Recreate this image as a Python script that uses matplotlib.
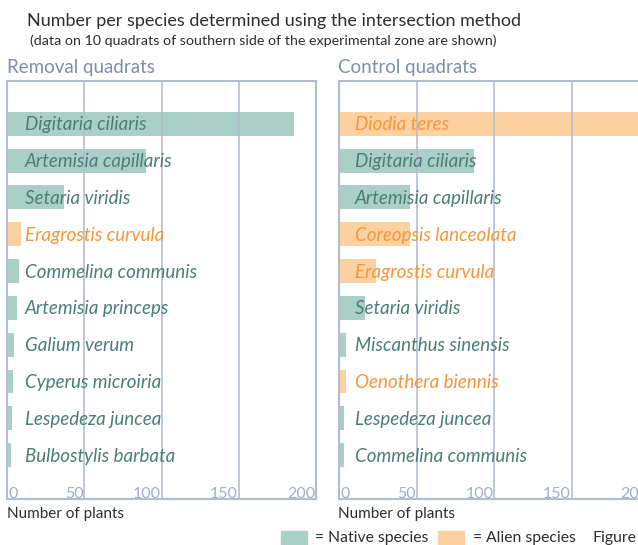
import matplotlib
matplotlib.use("Agg")
import matplotlib.pyplot as plt
from matplotlib.patches import Rectangle
import matplotlib.transforms as mtransforms

plt.rcParams['font.family'] = ['Lato', 'DejaVu Sans']

# ---------------- data ----------------
removal_species = ["Digitaria ciliaris", "Artemisia capillaris", "Setaria viridis",
                   "Eragrostis curvula", "Commelina communis", "Artemisia princeps",
                   "Galium verum", "Cyperus microiria", "Lespedeza juncea",
                   "Bulbostylis barbata"]
removal_values = [186, 90, 37, 9, 8, 6.5, 4.5, 4, 3, 2.5]
removal_origin = ["native", "native", "native", "alien", "native", "native",
                  "native", "native", "native", "native"]

control_species = ["Diodia teres", "Digitaria ciliaris", "Artemisia capillaris",
                   "Coreopsis lanceolata", "Eragrostis curvula", "Setaria viridis",
                   "Miscanthus sinensis", "Oenothera biennis", "Lespedeza juncea",
                   "Commelina communis"]
control_values = [210, 87, 46, 46, 24, 17, 4.5, 4.5, 3, 3]
control_origin = ["alien", "native", "native", "alien", "alien", "native",
                  "native", "alien", "native", "native"]

x_ticks = [0, 50, 100, 150, 200]
panel_titles = ["Removal quadrats", "Control quadrats"]
title = "Number per species determined using the intersection method"
subtitle = "(data on 10 quadrats of southern side of the experimental zone are shown)"
xlabel = "Number of plants"
legend_labels = ["= Native species", "= Alien species"]

# ---------------- styles ----------------
BAR = {"native": "#aacfc7", "alien": "#fed1a1"}
TXT = {"native": "#4a7f73", "alien": "#f7963a"}
GRID = "#b3bdcd"
TICK = "#a3afc3"
PANEL = "#7d8fa6"
DARK = "#2e2e2e"

W, H = 638, 545
fig = plt.figure(figsize=(W / 100, H / 100), dpi=100)


def px_axes(x0, y0, x1, y1):
    return fig.add_axes([x0 / W, 1 - y1 / H, (x1 - x0) / W, (y1 - y0) / H])


def draw_panel(ax, species, values, origin, label_x_px):
    n = len(species)
    ypos = list(range(n))
    colors = [BAR[o] for o in origin]
    ax.barh(ypos, values, height=0.65, color=colors, zorder=1)
    ax.set_xlim(0, 200)
    ax.set_ylim(10.19, -1.16)
    for t in x_ticks[1:-1]:
        ax.axvline(t, color=GRID, lw=1.2, zorder=2)
    for s in ax.spines.values():
        s.set_color(GRID)
        s.set_linewidth(1.5)
    ax.set_xticks([])
    ax.set_yticks([])
    off = mtransforms.offset_copy(ax.transData, fig=fig, x=label_x_px * 0.72,
                                  y=-1.0 * 0.72, units='points')
    for i, (sp, o) in enumerate(zip(species, origin)):
        ax.text(0, i, sp, transform=off, ha='left', va='center', style='italic',
                fontsize=13.5, color=TXT[o], zorder=3)
    tr = mtransforms.blended_transform_factory(ax.transData, ax.transAxes)
    trb = mtransforms.offset_copy(tr, fig=fig, x=0, y=1.5 * 0.72, units='points')
    for t in x_ticks:
        ax.text(t + (1 if t == 0 else -0.5), 0.0, str(t), transform=trb,
                ha='left' if t == 0 else 'right', va='baseline', fontsize=11.5,
                color=TICK, zorder=3)


ax1 = px_axes(7, 81, 316, 499)
draw_panel(ax1, removal_species, removal_values, removal_origin, 18)
ax2 = px_axes(339, 81, 649, 499)
draw_panel(ax2, control_species, control_values, control_origin, 16)

fig.text(27 / W, 1 - 21 / H, title, fontsize=13, color=DARK, va='center', ha='left')
fig.text(30 / W, 1 - 41 / H, subtitle, fontsize=10.3, color=DARK, va='center', ha='left')
fig.text(7 / W, 1 - 67 / H, panel_titles[0], fontsize=13.5, color=PANEL, va='center',
         ha='left')
fig.text(338 / W, 1 - 67 / H, panel_titles[1], fontsize=13.5, color=PANEL, va='center',
         ha='left')
fig.text(7 / W, 1 - 514 / H, xlabel, fontsize=11, color=DARK, va='center', ha='left')
fig.text(338 / W, 1 - 514 / H, xlabel, fontsize=11, color=DARK, va='center', ha='left')

# legend row
fig.patches.append(Rectangle((281 / W, 1 - 546 / H), 26 / W, 15 / H,
                             transform=fig.transFigure, color=BAR["native"]))
fig.text(315 / W, 1 - 538 / H, legend_labels[0], fontsize=11.3, color=DARK, va='center',
         ha='left')
fig.patches.append(Rectangle((438 / W, 1 - 546 / H), 26 / W, 15 / H,
                             transform=fig.transFigure, color=BAR["alien"]))
fig.text(473 / W, 1 - 538 / H, legend_labels[1], fontsize=11.3, color=DARK, va='center',
         ha='left')
fig.text(592 / W, 1 - 538 / H, "Figure", fontsize=11.3, color=DARK, va='center', ha='left')

fig.savefig("out.png", dpi=100)
